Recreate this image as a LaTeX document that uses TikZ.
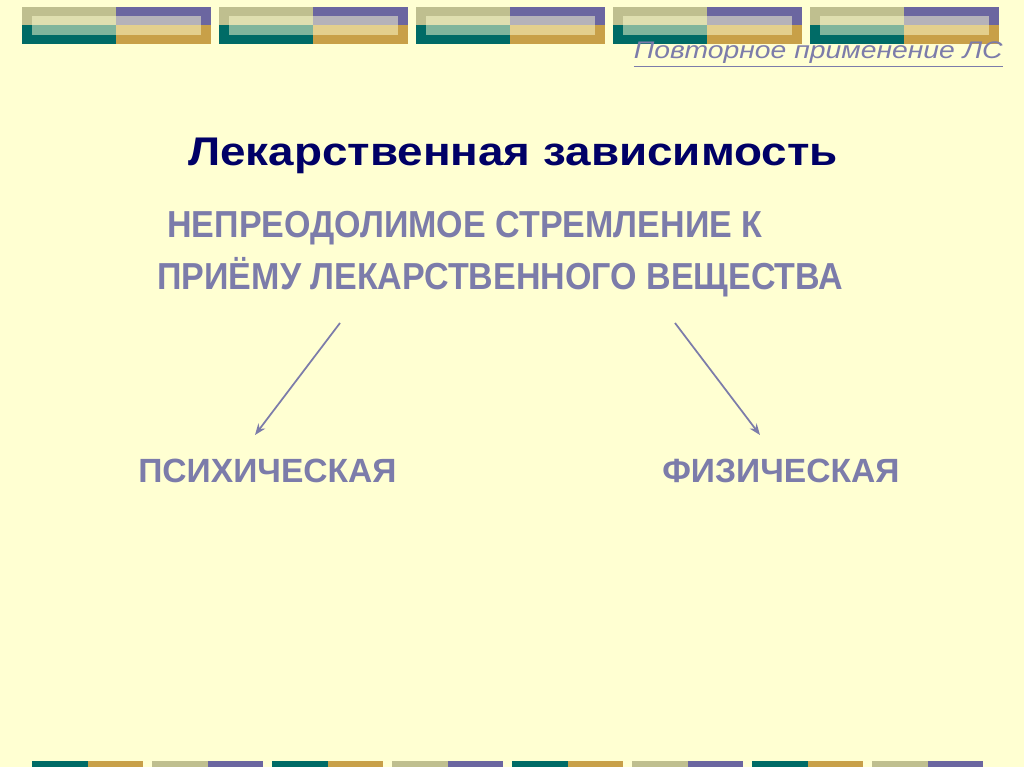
\documentclass[tikz,border=0pt]{standalone}
\usepackage{fontspec}
\setmainfont{Liberation Sans}
\newfontfamily\wideface[FakeStretch=1.145]{Liberation Sans}
\newfontfamily\narrowface[FakeStretch=0.905]{Liberation Sans}
\newfontfamily\linkface[FakeStretch=1.18]{Liberation Sans}
\usetikzlibrary{arrows.meta}
\definecolor{bgyellow}{HTML}{FFFFD2}
\definecolor{khaki}{HTML}{BFBF8F}
\definecolor{violet}{HTML}{6B66A0}
\definecolor{teal}{HTML}{006B66}
\definecolor{gold}{HTML}{C8A048}
\definecolor{navy}{HTML}{000066}
\definecolor{slate}{HTML}{7C7CAA}

\begin{document}
\begin{tikzpicture}[x=0.75pt, y=-0.75pt,
  txt/.style={inner sep=0pt, anchor=base west, text=slate, font=\narrowface\bfseries\fontsize{28.2}{30}\selectfont},
  kind/.style={txt, font=\bfseries\fontsize{25.2}{28}\selectfont},
  link/.style={-{Stealth[length=8.5pt, width=6.5pt]}, draw=slate, line width=1.3pt}]
  \useasboundingbox[fill=bgyellow] (0,0) rectangle (1024,767);
  % top band
  \foreach \i in {0,...,4} {
    \begin{scope}[xshift=\i*197*0.75pt]
      \fill[khaki] (22,7) rectangle (116.3,25.3);
      \fill[violet] (116.3,7) rectangle (211,25.3);
      \fill[teal] (22,25.3) rectangle (116.3,44);
      \fill[gold] (116.3,25.3) rectangle (211,44);
      \fill[bgyellow, opacity=0.5] (31.7,16) rectangle (201,35);
    \end{scope}
  }
  % bottom band
  \foreach \i in {0,...,7} {
    \pgfmathsetmacro{\xa}{32+120*\i}
    \ifodd\i
      \fill[khaki] (\xa,761) rectangle ({\xa+55.5},767);
      \fill[violet] ({\xa+55.5},761) rectangle ({\xa+111},767);
    \else
      \fill[teal] (\xa,761) rectangle ({\xa+55.5},767);
      \fill[gold] ({\xa+55.5},761) rectangle ({\xa+111},767);
    \fi
  }
  \node[inner sep=0pt, anchor=base east, text=slate, font=\linkface\itshape\fontsize{18}{20}\selectfont]
    (repeat) at (1003,59) {\underline{Повторное применение ЛС}};
  \node[inner sep=0pt, anchor=base west, text=navy, font=\wideface\bfseries\fontsize{30}{34}\selectfont]
    (title) at (188,165) {Лекарственная зависимость};
  \node[txt] (urge) at (167,237) {НЕПРЕОДОЛИМОЕ СТРЕМЛЕНИЕ К};
  \node[txt] (intake) at (157,289) {ПРИЁМУ ЛЕКАРСТВЕННОГО ВЕЩЕСТВА};
  \node[kind] (psych) at (138,482) {ПСИХИЧЕСКАЯ};
  \node[kind] (phys) at (662,482) {ФИЗИЧЕСКАЯ};
  \coordinate (leftfoot) at (340,323);
  \coordinate (rightfoot) at (675,323);
  \coordinate (psychtop) at (255,435);
  \coordinate (phystop) at (760,435);
  \draw[link] (leftfoot) -- (psychtop);
  \draw[link] (rightfoot) -- (phystop);
\end{tikzpicture}
\end{document}
